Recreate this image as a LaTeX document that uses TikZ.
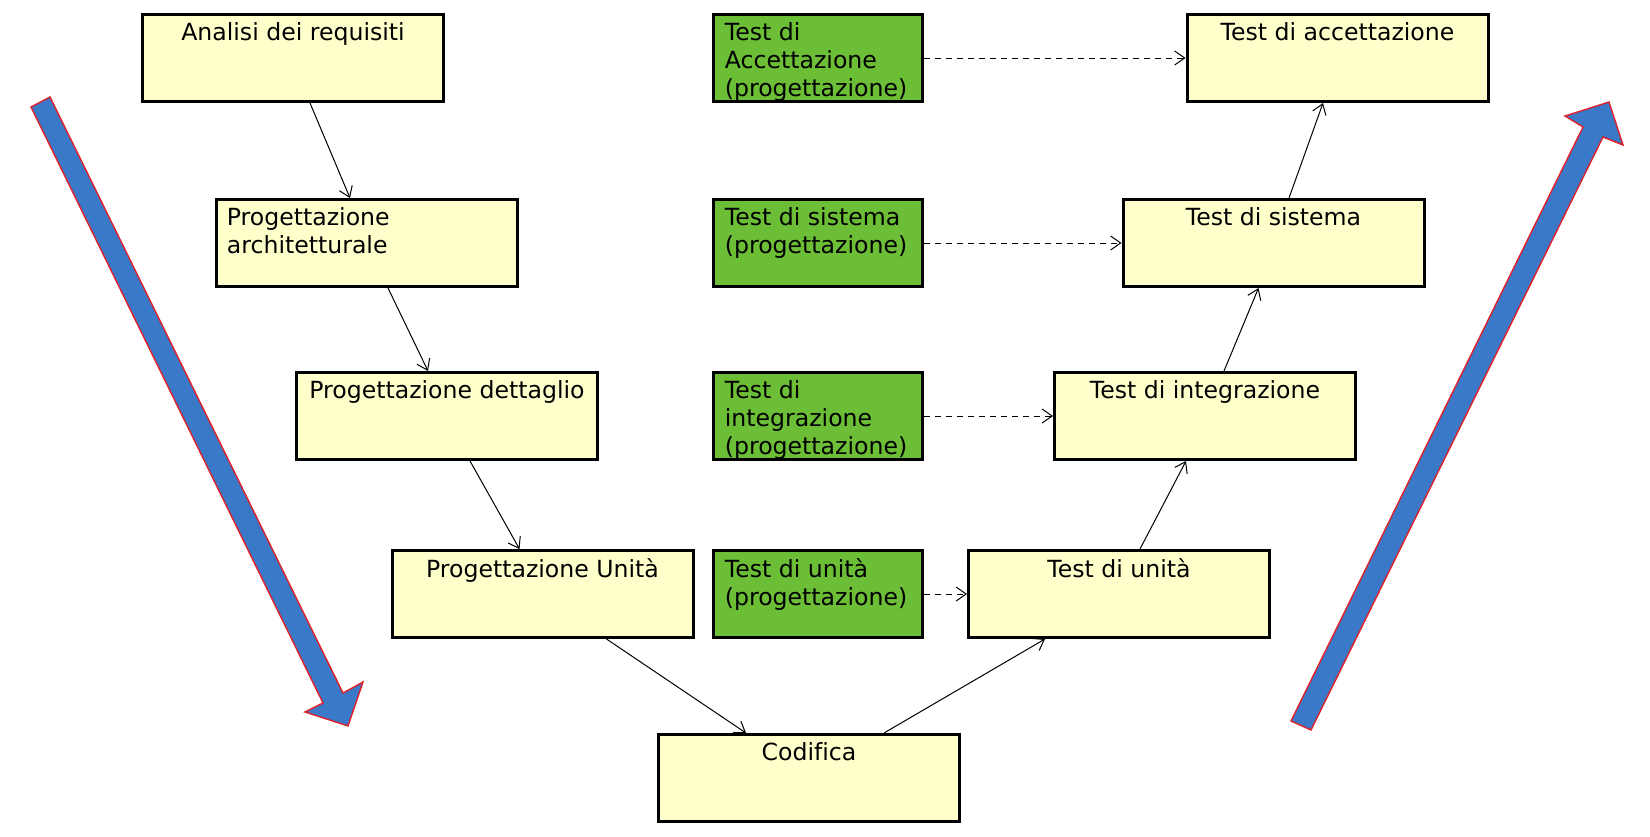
\documentclass[tikz,border=0pt]{standalone}
\usepackage{fontspec}
\setmainfont[Ligatures=NoCommon]{DejaVu Sans}
\usepackage{tikz}
\usetikzlibrary{arrows.meta, calc, positioning}
\definecolor{boxyellow}{HTML}{FFFFCC}
\definecolor{testgreen}{HTML}{6BBE35}
\definecolor{vblue}{HTML}{3A78C8}
\definecolor{vred}{HTML}{E0202A}

\begin{document}
\begin{tikzpicture}[x=0.5pt, y=-0.5pt, font=\fontsize{11.8}{14}\selectfont]
  \tikzstyle{phase}=[draw, line width=1.5pt, fill=boxyellow, minimum width=150.5pt, minimum height=43.5pt, inner sep=0pt]
  \tikzstyle{plan}=[phase, fill=testgreen, minimum width=104.5pt]
  \tikzstyle{title}=[inner sep=0pt, anchor=north]
  \tikzstyle{ltitle}=[inner sep=0pt, anchor=north west, align=left]
  \tikzstyle{flow}=[-{Straight Barb[length=5pt,width=7pt]}, line width=0.5pt]
  \tikzstyle{dflow}=[flow, dash pattern=on 3pt off 2.5pt]
  \tikzstyle{bigarrow}=[fill=vblue, draw=vred, line width=0.7pt, line join=miter]

  \useasboundingbox (0,0) rectangle (1650,836);

  % Big arrows (down the left, up the right)
  \filldraw[bigarrow] (31,107) -- (50,97) -- (343,693) -- (363,682) -- (348,726)
    -- (305,712) -- (323,703) -- cycle;
  \filldraw[bigarrow] (1291,721) -- (1311,730) -- (1603,137) -- (1623,145) -- (1609,102)
    -- (1565,116) -- (1583,127) -- cycle;

  % Left branch
  \node[phase] (an) at (293,58) {};
  \node[phase] (pa) at (367,243) {};
  \node[phase] (pd) at (447,416) {};
  \node[phase] (pu) at (542.5,594) {};
  % Bottom
  \node[phase] (co) at (809,778) {};
  % Right branch
  \node[phase] (tu) at (1119,594) {};
  \node[phase] (ti) at (1205,416) {};
  \node[phase] (ts) at (1273.5,243) {};
  \node[phase] (ta) at (1337.5,58) {};

  % Test design (middle column)
  \node[plan] (ga) at (818,58) {};
  \node[plan] (gs) at (818,243) {};
  \node[plan] (gi) at (818,416) {};
  \node[plan] (gu) at (818,594) {};

  %% Labels
  \node[title] (an-t) at ([yshift=-4.5pt]an.north) {Analisi dei requisiti};
  \node[ltitle] (pa-t) at ([xshift=5.75pt, yshift=-4.5pt]pa.north west) {Progettazione\\architetturale};
  \node[title] (pd-t) at ([yshift=-4.5pt]pd.north) {Progettazione dettaglio};
  \node[title] (pu-t) at ([yshift=-4.5pt]pu.north) {Progettazione Unità};
  \node[title] (co-t) at ([yshift=-4.5pt]co.north) {Codifica};
  \node[title] (tu-t) at ([yshift=-4.5pt]tu.north) {Test di unità};
  \node[title] (ti-t) at ([yshift=-4.5pt]ti.north) {Test di integrazione};
  \node[title] (ts-t) at ([yshift=-4.5pt]ts.north) {Test di sistema};
  \node[title] (ta-t) at ([yshift=-4.5pt]ta.north) {Test di accettazione};

  \node[ltitle] (ga-t) at ([xshift=6.25pt, yshift=-4.5pt]ga.north west) {Test di\\Accettazione\\(progettazione)};
  \node[ltitle] (gs-t) at ([xshift=6.25pt, yshift=-4.5pt]gs.north west) {Test di sistema\\(progettazione)};
  \node[ltitle] (gi-t) at ([xshift=6.25pt, yshift=-4.5pt]gi.north west) {Test di\\integrazione\\(progettazione)};
  \node[ltitle] (gu-t) at ([xshift=6.25pt, yshift=-4.5pt]gu.north west) {Test di unità\\(progettazione)};

  % Flow of the V
  \draw[flow] ([xshift=8.5pt]an.south) -- ([xshift=-8.5pt]pa.north);
  \draw[flow] ([xshift=10.5pt]pa.south) -- ([xshift=-9.5pt]pd.north);
  \draw[flow] ([xshift=11.5pt]pd.south) -- ([xshift=-11.5pt]pu.north);
  \draw[flow] ([xshift=32pt]pu.south) -- ([xshift=-31.5pt]co.north);
  \draw[flow] ([xshift=37.5pt]co.north) -- ([xshift=-37pt]tu.south);
  \draw[flow] ([xshift=10.5pt]tu.north) -- ([xshift=-9.5pt]ti.south);
  \draw[flow] ([xshift=9.5pt]ti.north) -- ([xshift=-7.5pt]ts.south);
  \draw[flow] ([xshift=7.75pt]ts.north) -- ([xshift=-7.25pt]ta.south);

  % Test design feeds the tests
  \draw[dflow] (ga.east) -- (ta.west);
  \draw[dflow] (gs.east) -- (ts.west);
  \draw[dflow] (gi.east) -- (ti.west);
  \draw[dflow] (gu.east) -- (tu.west);
\end{tikzpicture}
\end{document}
